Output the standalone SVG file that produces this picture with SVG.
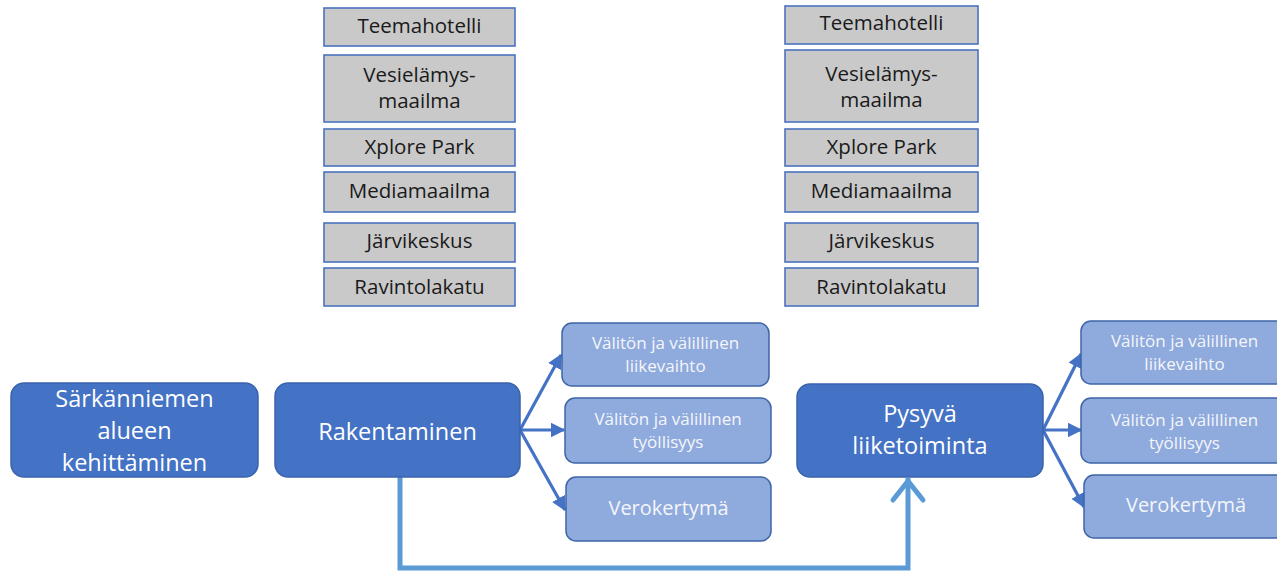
<svg xmlns="http://www.w3.org/2000/svg" width="1277" height="573" viewBox="0 0 1277 573">
<style>
.gray rect{fill:#c9c9c9;stroke:#4a72c0;stroke-width:1.6}
.gray text{font-family:"Open Sans","Liberation Sans",sans-serif;font-size:20.5px;fill:#1a1a1a;text-anchor:middle}
.main rect{fill:#4472c4;stroke:#3a63ad;stroke-width:1.5}
.main text{font-family:"Open Sans","Liberation Sans",sans-serif;font-size:23.5px;fill:#ffffff;text-anchor:middle}
.sub rect{fill:#8faadc;stroke:#3e64a8;stroke-width:1.5}
.sub text{font-family:"Open Sans","Liberation Sans",sans-serif;font-size:17px;fill:#f4f6fb;text-anchor:middle}
.sub text.big{font-size:20px}
.arr{stroke:#4472c4;stroke-width:3.2;fill:none;marker-end:url(#ah)}
.flow{stroke:#5b9bd5;stroke-width:5;fill:none;stroke-linejoin:miter}
</style>
<defs>
<marker id="ah" viewBox="0 0 10 10" refX="9" refY="5" markerWidth="4.6" markerHeight="4.6" orient="auto" markerUnits="strokeWidth">
<path d="M0,0 L10,5 L0,10 z" fill="#4472c4"/>
</marker>
</defs>

<g id="col1">
<g id="g1-teema" class="gray"><rect x="324" y="8" width="191" height="38"/><text x="419.5" y="33">Teemahotelli</text></g>
<g id="g1-vesi" class="gray"><rect x="324" y="55" width="191" height="67"/><text x="419.5" y="82">Vesielämys-</text><text x="419.5" y="108">maailma</text></g>
<g id="g1-xplore" class="gray"><rect x="324" y="129" width="191" height="37"/><text x="419.5" y="154">Xplore Park</text></g>
<g id="g1-media" class="gray"><rect x="324" y="172" width="191" height="40"/><text x="419.5" y="198">Mediamaailma</text></g>
<g id="g1-jarvi" class="gray"><rect x="324" y="223" width="191" height="39"/><text x="419.5" y="248">Järvikeskus</text></g>
<g id="g1-ravi" class="gray"><rect x="324" y="268" width="191" height="38"/><text x="419.5" y="294">Ravintolakatu</text></g>
</g>

<g id="col2">
<g id="g2-teema" class="gray"><rect x="785" y="6" width="193" height="38"/><text x="881.5" y="30">Teemahotelli</text></g>
<g id="g2-vesi" class="gray"><rect x="785" y="50" width="193" height="72"/><text x="881.5" y="81">Vesielämys-</text><text x="881.5" y="107">maailma</text></g>
<g id="g2-xplore" class="gray"><rect x="785" y="129" width="193" height="37"/><text x="881.5" y="154">Xplore Park</text></g>
<g id="g2-media" class="gray"><rect x="785" y="172" width="193" height="40"/><text x="881.5" y="198">Mediamaailma</text></g>
<g id="g2-jarvi" class="gray"><rect x="785" y="223" width="193" height="39"/><text x="881.5" y="248">Järvikeskus</text></g>
<g id="g2-ravi" class="gray"><rect x="785" y="268" width="193" height="38"/><text x="881.5" y="294">Ravintolakatu</text></g>
</g>

<g id="connectors">
<path class="flow" d="M400,477 V568 H908 V478"/>
<path d="M893,500 L908,481 L923,500" stroke="#5b9bd5" stroke-width="5" fill="none" stroke-linecap="round" stroke-linejoin="round"/>
<path class="arr" d="M520,430 L561,355"/>
<path class="arr" d="M520,430 L564,430"/>
<path class="arr" d="M520,430 L565,510"/>
<path class="arr" d="M1043,430 L1081,354"/>
<path class="arr" d="M1043,430 L1081,430"/>
<path class="arr" d="M1043,430 L1084,507"/>
</g>

<g id="n-sarkanniemi" class="main"><rect x="11" y="383" width="247" height="94" rx="13"/><text x="134.5" y="407">Särkänniemen</text><text x="134.5" y="439">alueen</text><text x="134.5" y="471">kehittäminen</text></g>
<g id="n-rakentaminen" class="main"><rect x="275" y="383" width="245" height="94" rx="13"/><text x="397.5" y="440">Rakentaminen</text></g>
<g id="n-pysyva" class="main"><rect x="797" y="384" width="246" height="93" rx="13"/><text x="920" y="422">Pysyvä</text><text x="920" y="454">liiketoiminta</text></g>

<g id="s1-liike" class="sub"><rect x="562" y="323" width="207" height="63" rx="10"/><text x="665.5" y="349">Välitön ja välillinen</text><text x="665.5" y="372">liikevaihto</text></g>
<g id="s1-tyo" class="sub"><rect x="565" y="398" width="206" height="65" rx="10"/><text x="668" y="425">Välitön ja välillinen</text><text x="668" y="448">työllisyys</text></g>
<g id="s1-vero" class="sub"><rect x="566" y="477" width="205" height="64" rx="10"/><text class="big" x="668.5" y="515">Verokertymä</text></g>

<g id="s2-liike" class="sub"><rect x="1081" y="321" width="207" height="63" rx="10"/><text x="1184.5" y="347">Välitön ja välillinen</text><text x="1184.5" y="370">liikevaihto</text></g>
<g id="s2-tyo" class="sub"><rect x="1081" y="398" width="207" height="65" rx="10"/><text x="1184.5" y="426">Välitön ja välillinen</text><text x="1184.5" y="449">työllisyys</text></g>
<g id="s2-vero" class="sub"><rect x="1084" y="475" width="204" height="63" rx="10"/><text class="big" x="1186" y="512">Verokertymä</text></g>
</svg>
